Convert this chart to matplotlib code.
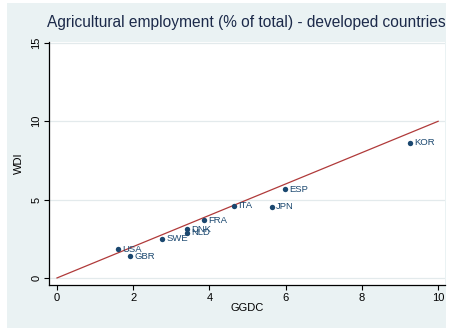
import matplotlib.pyplot as plt
from matplotlib.patches import Rectangle

plt.rcParams['font.family'] = ['Liberation Sans', 'DejaVu Sans']

# --------- DATA ---------
countries = ['USA', 'GBR', 'SWE', 'DNK', 'NLD', 'FRA', 'ITA', 'JPN', 'ESP', 'KOR']
ggdc = [1.60, 1.92, 2.76, 3.41, 3.41, 3.86, 4.65, 5.64, 5.98, 9.27]
wdi = [1.82, 1.40, 2.50, 3.10, 2.88, 3.68, 4.60, 4.53, 5.66, 8.62]
line_x = [0, 10]
line_y = [0, 10]
xticks = [0, 2, 4, 6, 8, 10]
yticks = [0, 5, 10, 15]

navy = '#1a476f'
bg = '#eaf2f3'

fig = plt.figure(figsize=(4.51, 3.30), dpi=100, facecolor='white')
# graph region (light bluish gray) with thin white border
fig.patches.append(Rectangle((7 / 451, 2 / 330), 439 / 451, 325 / 330,
                             transform=fig.transFigure, facecolor=bg,
                             edgecolor='none', zorder=-10))

ax = fig.add_axes([49 / 451, 1 - 285 / 330, 396 / 451, 243 / 330])
ax.set_zorder(5)
ax.set_facecolor('white')

ax.plot(line_x, line_y, color='#b03a3a', lw=0.9, zorder=2)
ax.scatter(ggdc, wdi, s=15, color=navy, zorder=3, linewidths=0)
for c, x, y in zip(countries, ggdc, wdi):
    ax.annotate(c, (x, y), xytext=(3, 0), textcoords='offset points',
                va='center', ha='left', fontsize=6.8, color=navy, zorder=4)

ax.set_xlim(-0.21, 10.18)
ax.set_ylim(-0.45, 15.06)
ax.set_xticks(xticks)
ax.set_yticks(yticks)
ax.set_yticklabels([str(t) for t in yticks], rotation=90, va='center')
ax.tick_params(axis='both', labelsize=8, length=3.5, width=0.8,
               colors='black', pad=2)
ax.grid(axis='y', color='#e3eaec', lw=0.9)
ax.set_axisbelow(True)
for s in ['top', 'right']:
    ax.spines[s].set_visible(False)
for s in ['left', 'bottom']:
    ax.spines[s].set_linewidth(0.9)

ax.set_xlabel('GGDC', fontsize=8, labelpad=0)
ax.set_ylabel('WDI', fontsize=8, labelpad=5)

fig.text(47 / 451, 1 - 23 / 330, 'Agricultural employment (% of total) - developed countries',
         fontsize=11.2, color='#1c2a4a', ha='left', va='center', zorder=6)

fig.savefig('out.png', dpi=100)
